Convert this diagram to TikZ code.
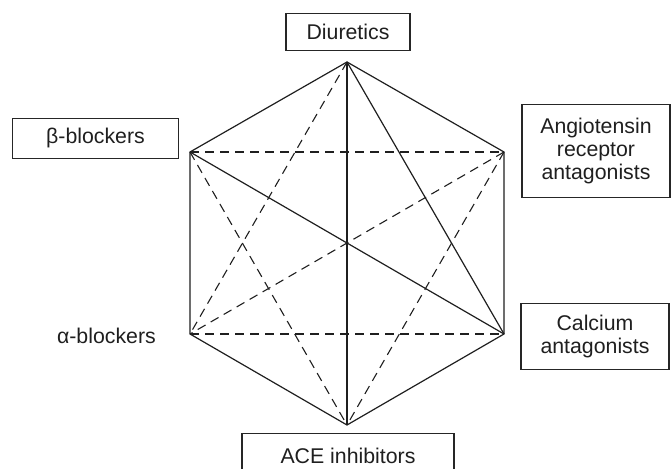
\documentclass[tikz,border=0pt]{standalone}
\usepackage{fontspec}
\setmainfont{Liberation Sans}
\begin{document}
\begin{tikzpicture}[x=1pt,y=-1pt,
  every node/.style={font=\fontsize{21.3}{23}\selectfont, text=black!88, align=center, inner sep=0pt},
  box/.style={draw=black!85, line width=1.1pt},
  solidline/.style={draw=black!88, line width=1.2pt},
  dashline/.style={draw=black!88, line width=1.1pt, dash pattern=on 9pt off 6pt}]
\useasboundingbox (0,0) rectangle (671,468);
\clip (0,0) rectangle (671,468);
% vertices
\coordinate (T) at (347,62);
\coordinate (UL) at (190,152);
\coordinate (UR) at (504,152);
\coordinate (LL) at (190,334);
\coordinate (LR) at (504,334);
\coordinate (B) at (347,425);
% boxes
\node[box, minimum width=124pt, minimum height=37pt] (diu) at (348,32) {Diuretics};
\node[box, minimum width=166pt, minimum height=40pt] (beta) at (95.5,138.3) {β-blockers};
\node[box, minimum width=148pt, minimum height=93pt] (ang) at (596,150.7) {Angiotensin\\receptor\\antagonists};
\node[box, minimum width=148pt, minimum height=66pt] (cal) at (595,336.3) {Calcium\\antagonists};
\node[anchor=base east] (alpha) at (156,343) {α-blockers};
\node[box, minimum width=212pt, minimum height=80pt, anchor=north] (acebox) at (348,433.3) {};
\node[anchor=base] (ace) at (348,463) {ACE inhibitors};
% hexagon sides
\draw[solidline] (T) -- (UR) -- (LR) -- (B) -- (LL) -- (UL) -- cycle;
% solid diagonals
\draw[solidline] (T) -- (B);
\draw[solidline] (UL) -- (LR);
\draw[solidline] (T) -- (LR);
% dashed diagonals
\draw[dashline] (UL) -- (UR);
\draw[dashline] (LL) -- (LR);
\draw[dashline] (UR) -- (LL);
\draw[dashline] (T) -- (LL);
\draw[dashline] (UL) -- (B);
\draw[dashline] (UR) -- (B);
\end{tikzpicture}
\end{document}
